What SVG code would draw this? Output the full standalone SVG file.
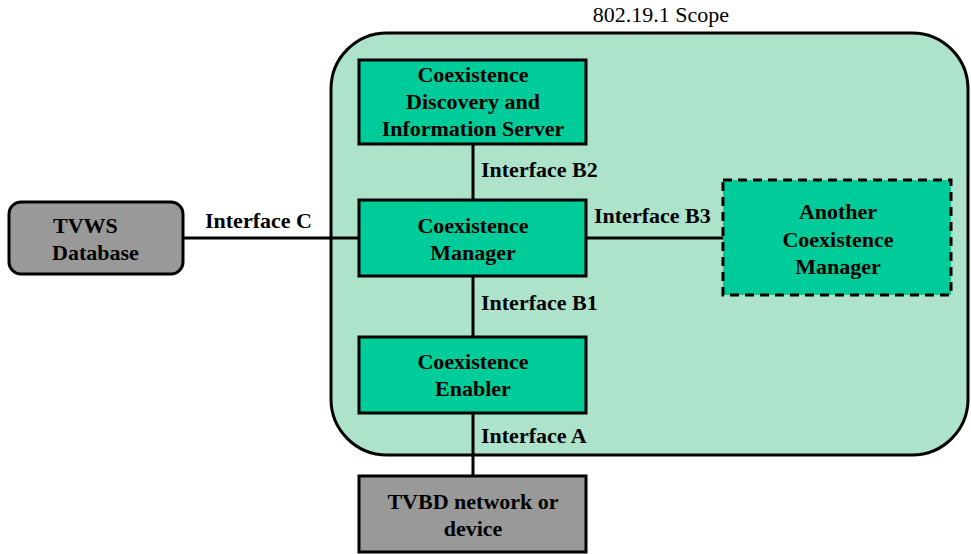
<svg xmlns="http://www.w3.org/2000/svg" width="971" height="554" viewBox="0 0 971 554">
<style>
.t{font-family:"Liberation Serif","Times New Roman",serif;font-weight:bold;font-size:22px;fill:#000}
.c{text-anchor:middle}
.box{fill:#00CC99;stroke:#000;stroke-width:3}
.gray{fill:#999999;stroke:#000;stroke-width:3}
.ln{stroke:#000;stroke-width:3;fill:none}
</style>
<text x="661" y="22" style="font-family:'Liberation Serif','Times New Roman',serif;font-size:22px" text-anchor="middle">802.19.1 Scope</text>
<g id="scope"><rect x="331" y="33" width="637" height="422" rx="56" ry="56" fill="#ACE3CA" stroke="#000" stroke-width="3"/></g>
<g id="connectors">
<line class="ln" x1="473" y1="144" x2="473" y2="200"/>
<line class="ln" x1="473" y1="276" x2="473" y2="337"/>
<line class="ln" x1="473" y1="413" x2="473" y2="476"/>
<line class="ln" x1="183" y1="238" x2="359" y2="238"/>
<line class="ln" x1="586" y1="238" x2="723" y2="238"/>
<text class="t" x="481" y="177">Interface B2</text>
<text class="t" x="205" y="228">Interface C</text>
<text class="t" x="594" y="223">Interface B3</text>
<text class="t" x="481" y="310">Interface B1</text>
<text class="t" x="481" y="443">Interface A</text>
</g>
<g id="cdis"><rect class="box" x="359" y="60" width="227" height="84"/>
<text class="t c" x="473" y="82">Coexistence</text><text class="t c" x="473" y="109">Discovery and</text><text class="t c" x="473" y="136">Information Server</text></g>
<g id="cm"><rect class="box" x="359" y="200" width="227" height="76"/>
<text class="t c" x="473" y="233">Coexistence</text><text class="t c" x="473" y="260">Manager</text></g>
<g id="ce"><rect class="box" x="359" y="337" width="227" height="76"/>
<text class="t c" x="473" y="369">Coexistence</text><text class="t c" x="473" y="396">Enabler</text></g>
<g id="tvbd"><rect class="gray" x="359" y="476" width="227" height="76"/>
<text class="t c" x="473" y="509">TVBD network or</text><text class="t c" x="473" y="536">device</text></g>
<g id="tvws"><rect class="gray" x="9" y="202" width="174" height="72" rx="12" ry="12"/>
<text class="t" x="53" y="233">TVWS</text><text class="t" x="52" y="260">Database</text></g>
<g id="acm"><rect class="box" x="723" y="180" width="228" height="115" stroke-dasharray="9,6"/>
<text class="t c" x="838" y="219">Another</text><text class="t c" x="838" y="247">Coexistence</text><text class="t c" x="838" y="274">Manager</text></g>
</svg>
